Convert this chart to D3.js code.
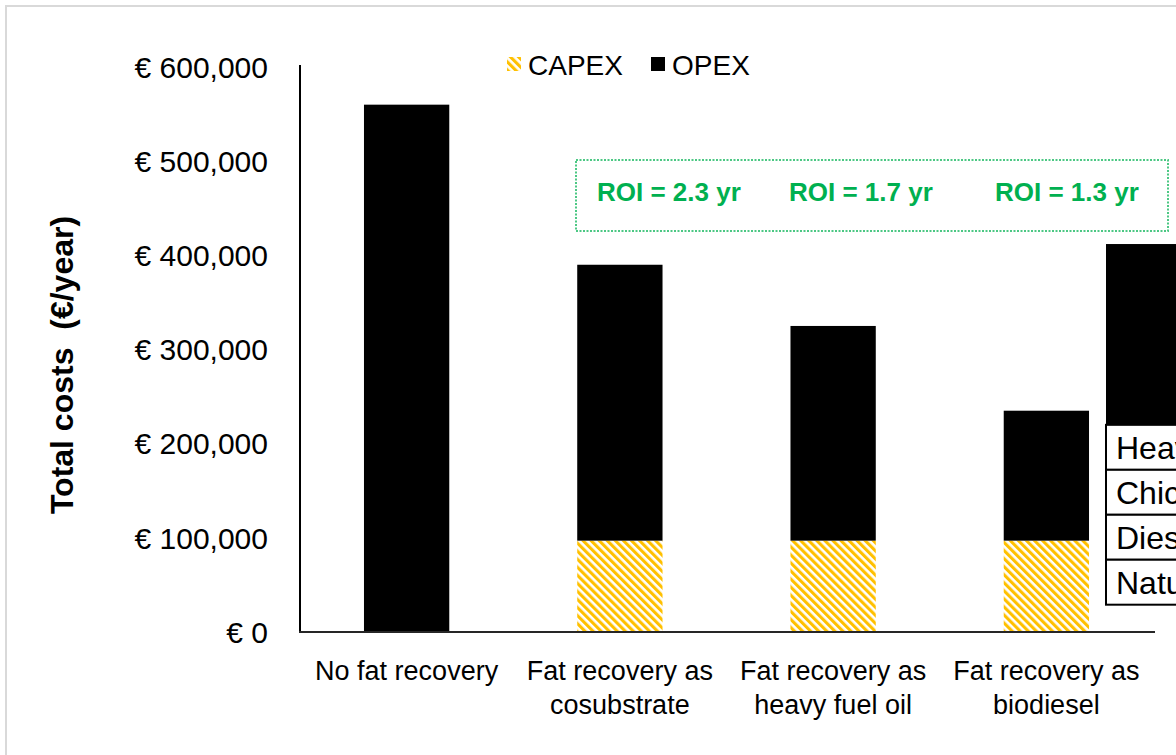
<!DOCTYPE html>
<html>
<head>
<meta charset="utf-8">
<script src="https://cdn.jsdelivr.net/npm/d3@7"></script>
<style>
  html, body { margin: 0; padding: 0; background: #fff; overflow: hidden; }
  text { font-family: "Liberation Sans", Arial, sans-serif; }
</style>
</head>
<body>
<svg id="chart" width="1176" height="755"></svg>
<script>
// chart values (euro per year)
var categories = ['No fat recovery', 'Fat recovery as cosubstrate', 'Fat recovery as heavy fuel oil', 'Fat recovery as biodiesel'];
var catLines = [['No fat recovery'], ['Fat recovery as', 'cosubstrate'], ['Fat recovery as', 'heavy fuel oil'], ['Fat recovery as', 'biodiesel']];
var capex = [0, 97000, 97000, 97000];
var opex = [560000, 293000, 228000, 138000];
var yTicks = [0, 100000, 200000, 300000, 400000, 500000, 600000];
var roiLabels = ['ROI = 2.3 yr', 'ROI = 1.7 yr', 'ROI = 1.3 yr'];
var legendKeys = ['CAPEX', 'OPEX'];

// the cut-off element at the right edge (another chart pasted on top)
var overlayBar = [220000, 412000];
var overlayRows = ['Heavy fuel oil', 'Chicken fat', 'Diesel', 'Natural gas'];
var overlayRowTop = 220000, overlayRowBottom = 29000;

var svg = d3.select('#chart');
var yellow = '#FFC000', green = '#00B050';

// hatch for CAPEX
var defs = svg.append('defs');
var pat = defs.append('pattern')
  .attr('id', 'hatch')
  .attr('patternUnits', 'userSpaceOnUse')
  .attr('width', 5.7).attr('height', 5.7)
  .attr('patternTransform', 'rotate(-45)');
pat.append('rect').attr('width', 5.7).attr('height', 5.7).attr('fill', '#fff');
pat.append('rect').attr('width', 3.1).attr('height', 5.7).attr('fill', yellow);

// outer frame
svg.append('rect')
  .attr('x', 6).attr('y', 6)
  .attr('width', 1200).attr('height', 800)
  .attr('fill', 'none')
  .attr('stroke', '#d9d9d9')
  .attr('stroke-width', 2);

var plotLeft = 300, plotRight = 1153, plotTop = 67, plotBottom = 632;

var x = d3.scaleBand()
  .domain(categories)
  .range([plotLeft, plotRight])
  .paddingInner(0.6)
  .paddingOuter(0.3);

var y = d3.scaleLinear()
  .domain([0, 600000])
  .range([plotBottom, plotTop]);

// y tick labels
var fmt = d3.format(',');
svg.append('g').selectAll('text')
  .data(yTicks)
  .enter().append('text')
  .attr('x', 268)
  .attr('y', function(d) { return y(d); })
  .attr('dy', '0.36em')
  .attr('text-anchor', 'end')
  .style('font-size', '30px')
  .text(function(d) { return '\u20AC ' + fmt(d); });

// bars
var bars = svg.append('g');
categories.forEach(function(c, i) {
  if (capex[i] > 0) {
    bars.append('rect')
      .attr('x', x(c)).attr('width', x.bandwidth())
      .attr('y', y(capex[i]))
      .attr('height', y(0) - y(capex[i]))
      .attr('fill', 'url(#hatch)');
  }
  bars.append('rect')
    .attr('x', x(c)).attr('width', x.bandwidth())
    .attr('y', y(capex[i] + opex[i]))
    .attr('height', y(capex[i]) - y(capex[i] + opex[i]))
    .attr('fill', '#000');
});

// overlay piece at the right edge
var ox = d3.scaleLinear().domain([0, 1]).range([1106, 1306]);
svg.append('rect')
  .attr('x', ox(0)).attr('width', ox(1) - ox(0))
  .attr('y', y(overlayBar[1]))
  .attr('height', y(overlayBar[0]) - y(overlayBar[1]))
  .attr('fill', '#000');
var rowY = d3.scaleBand().domain(overlayRows).range([y(overlayRowTop), y(overlayRowBottom)]);
var rows = svg.append('g').selectAll('g')
  .data(overlayRows)
  .enter().append('g');
rows.append('rect')
  .attr('x', ox(0)).attr('width', ox(1) - ox(0))
  .attr('y', function(d) { return rowY(d); })
  .attr('height', rowY.bandwidth())
  .attr('fill', '#fff')
  .attr('stroke', '#000')
  .attr('stroke-width', 2);
rows.append('text')
  .attr('x', ox(0) + 10)
  .attr('y', function(d) { return rowY(d) + rowY.bandwidth() / 2; })
  .attr('dy', '0.36em')
  .style('font-size', '32px')
  .text(function(d) { return d; });

// axes lines
svg.append('line')
  .attr('x1', plotLeft).attr('x2', plotLeft)
  .attr('y1', y(600000) - 2).attr('y2', plotBottom)
  .attr('stroke', '#000').attr('stroke-width', 2);
svg.append('line')
  .attr('x1', plotLeft - 1).attr('x2', plotRight + 2)
  .attr('y1', plotBottom).attr('y2', plotBottom)
  .attr('stroke', '#262626').attr('stroke-width', 2);

// category labels
var xl = svg.append('g').selectAll('text')
  .data(categories)
  .enter().append('text')
  .attr('text-anchor', 'middle')
  .attr('x', function(d) { return x(d) + x.bandwidth() / 2; })
  .attr('y', 680)
  .style('font-size', '27px');
xl.selectAll('tspan')
  .data(function(d, i) { return catLines[i]; })
  .enter().append('tspan')
  .attr('x', function() { var c = d3.select(this.parentNode).datum(); return x(c) + x.bandwidth() / 2; })
  .attr('dy', function(d, j) { return j === 0 ? 0 : 34; })
  .text(function(d) { return d; });

// y axis title
svg.append('text')
  .attr('transform', 'translate(73,' + 365 + ') rotate(-90)')
  .attr('text-anchor', 'middle')
  .style('font-size', '32px')
  .style('font-weight', 'bold')
  .attr('xml:space', 'preserve')
  .text('Total costs  (\u20AC/year)');

// legend
var leg = svg.append('g');
var legX = [507, 651];
legendKeys.forEach(function(k, i) {
  leg.append('rect')
    .attr('x', legX[i]).attr('y', 57)
    .attr('width', 14).attr('height', 14)
    .attr('fill', i === 0 ? 'url(#hatch)' : '#000');
  leg.append('text')
    .attr('x', legX[i] + 21).attr('y', 75)
    .style('font-size', '28px')
    .text(k);
});

// ROI box
svg.append('rect')
  .attr('x', 576).attr('y', 160)
  .attr('width', 592).attr('height', 71)
  .attr('fill', 'none')
  .attr('stroke', green)
  .attr('stroke-opacity', 0.7)
  .attr('stroke-width', 2)
  .attr('stroke-dasharray', '2,1.5');
var roiX = [597, 789, 995];
svg.append('g').selectAll('text')
  .data(roiLabels)
  .enter().append('text')
  .attr('x', function(d, i) { return roiX[i]; })
  .attr('y', 201)
  .style('font-size', '26px')
  .style('font-weight', 'bold')
  .attr('fill', green)
  .text(function(d) { return d; });
</script>
</body>
</html>
